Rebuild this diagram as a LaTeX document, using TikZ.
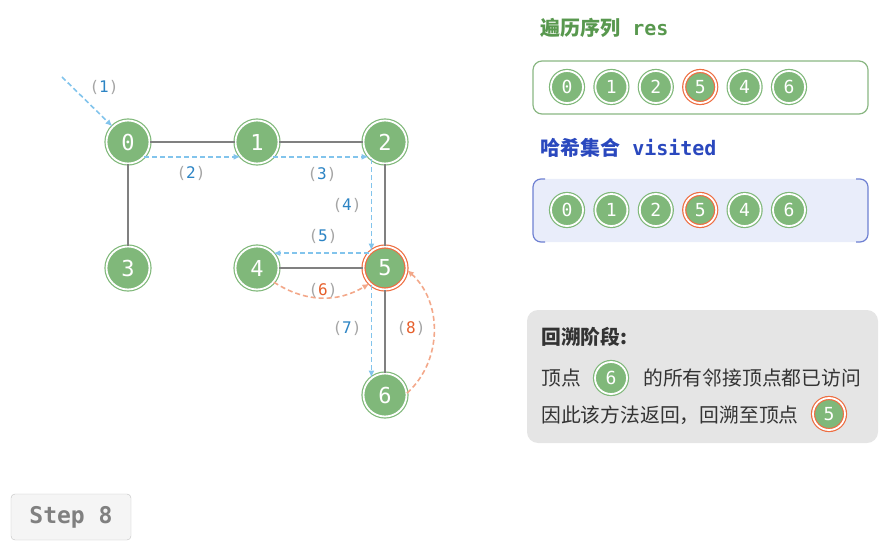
\documentclass[tikz,border=0pt]{standalone}
\usepackage{fontspec}
\setmainfont{Noto Sans CJK SC}
\newfontfamily\monof{DejaVu Sans Mono}
\usetikzlibrary{arrows.meta,positioning}
\definecolor{vtxG}{RGB}{128,184,122}
\definecolor{ringR}{RGB}{238,110,66}
\definecolor{edgeK}{RGB}{128,128,128}
\definecolor{walkB}{RGB}{130,196,236}
\definecolor{backR}{RGB}{243,168,138}
\definecolor{numB}{RGB}{44,132,196}
\definecolor{numR}{RGB}{230,94,42}
\definecolor{parK}{RGB}{165,165,165}
\definecolor{resG}{RGB}{88,152,78}
\definecolor{visB}{RGB}{42,72,190}
\definecolor{visF}{RGB}{233,237,250}
\definecolor{visL}{RGB}{110,128,210}
\definecolor{panK}{RGB}{229,229,229}
\definecolor{txtK}{RGB}{51,51,51}
\newcommand{\lbl}[2]{{\color{parK}(}{\color{#1}#2}{\color{parK})}}

\begin{document}
\begin{tikzpicture}[x=1pt, y=-1pt,
  vtx/.style={circle, fill=vtxG, draw=vtxG, double=white, double distance=1.8pt,
              line width=1.2pt, minimum size=43pt, inner sep=0pt,
              text=white, font=\monof\fontsize{22}{22}\selectfont},
  curv/.style={vtx, draw=ringR},
  sv/.style={vtx, minimum size=32pt, font=\monof\fontsize{18}{18}\selectfont},
  hv/.style={sv, draw=ringR},
  edge/.style={draw=edgeK, line width=2.4pt},
  walk/.style={draw=walkB, line width=1.6pt, dash pattern=on 5pt off 3pt,
               -{Latex[length=7pt,width=6pt]}},
  back/.style={draw=backR, line width=1.6pt, dash pattern=on 5pt off 3pt,
               -{Latex[length=7pt,width=6pt]}},
  tag/.style={font=\monof\fontsize{16}{16}\selectfont, inner sep=1pt},
  title/.style={anchor=west, font=\bfseries\fontsize{20}{20}\selectfont, inner sep=0pt},
  line/.style={anchor=west, text=txtK, font=\fontsize{19.8}{19.8}\selectfont, inner sep=0pt},
  stepbox/.style={rectangle, rounded corners=4pt, draw=black!25, fill=black!4,
                  minimum width=120pt, minimum height=46pt, text=black!50,
                  font=\monof\bfseries\fontsize{23}{23}\selectfont}]
  \useasboundingbox (0,0) rectangle (882,545);

  % graph
  \node[vtx] (n0) at (128,142) {0};
  \node[vtx] (n1) at (257,142) {1};
  \node[vtx] (n2) at (385,142) {2};
  \node[vtx] (n3) at (128,268) {3};
  \node[vtx] (n4) at (257,268) {4};
  \node[curv] (n5) at (385,268) {5};
  \node[vtx] (n6) at (385,395) {6};
  \draw[edge] (n0) -- (n1); \draw[edge] (n1) -- (n2);
  \draw[edge] (n0) -- (n3); \draw[edge] (n2) -- (n5);
  \draw[edge] (n4) -- (n5); \draw[edge] (n5) -- (n6);

  % traversal steps
  \coordinate (s0) at (62,77);
  \draw[walk] (s0) -- (n0.135);
  \draw[walk] (n0.-42) -- (n1.222);
  \draw[walk] (n1.-42) -- (n2.222);
  \draw[walk] (n2.232) -- (n5.128);
  \draw[walk] (n5.138) -- (n4.42);
  \draw[back] (n4.-40) to[bend right=32] (n5.-135);
  \draw[walk] (n5.-128) -- (n6.128);
  \draw[back] (n6.5) to[bend right=48] (n5.-5);
  \node[tag] (t1) at (104,87) {\lbl{numB}{1}};
  \node[tag] (t2) at (191,173) {\lbl{numB}{2}};
  \node[tag] (t3) at (322,174) {\lbl{numB}{3}};
  \node[tag] (t4) at (347,205) {\lbl{numB}{4}};
  \node[tag] (t5) at (323,236) {\lbl{numB}{5}};
  \node[tag] (t6) at (323,290) {\lbl{numR}{6}};
  \node[tag] (t7) at (347,328) {\lbl{numB}{7}};
  \node[tag] (t8) at (411,328) {\lbl{numR}{8}};

  % res
  \node[title, text=resG] (hres) at (540,28) {遍历序列{\monof\bfseries\ res}};
  \draw[resG!70, line width=1.2pt, fill=white, rounded corners=9pt] (533,61) rectangle (868,114);
  \foreach \v/\st [count=\i from 0] in {0/sv,1/sv,2/sv,5/hv,4/sv,6/sv}
    \node[\st] (r\i) at (567+44.4*\i,87) {\v};

  % visited
  \node[title, text=visB] (hvis) at (540,148) {哈希集合{\monof\bfseries\ visited}};
  \fill[visF, rounded corners=9pt] (533,179) rectangle (868,242);
  \draw[visL, line width=1.2pt, rounded corners=8pt] (545,179) -- (533,179) -- (533,242) -- (545,242);
  \draw[visL, line width=1.2pt, rounded corners=8pt] (856,179) -- (868,179) -- (868,242) -- (856,242);
  \foreach \v/\st [count=\i from 0] in {0/sv,1/sv,2/sv,5/hv,4/sv,6/sv}
    \node[\st] (v\i) at (567+44.4*\i,210) {\v};

  % note
  \fill[panK, rounded corners=11pt] (527,310) rectangle (878,443);
  \node[line, font=\bfseries\fontsize{19.8}{19.8}\selectfont] (p0) at (541,337) {回溯阶段:};
  \node[line] (p1) at (541,378) {顶点};
  \node[sv] (c6) at (611,378) {6};
  \node[line] (p2) at (643,378) {的所有邻接顶点都已访问};
  \node[line] (p3) at (541,415) {因此该方法返回，回溯至顶点};
  \node[hv] (c5) at (829,414) {5};

  \node[stepbox] (st) at (71,517) {Step 8};
\end{tikzpicture}
\end{document}
